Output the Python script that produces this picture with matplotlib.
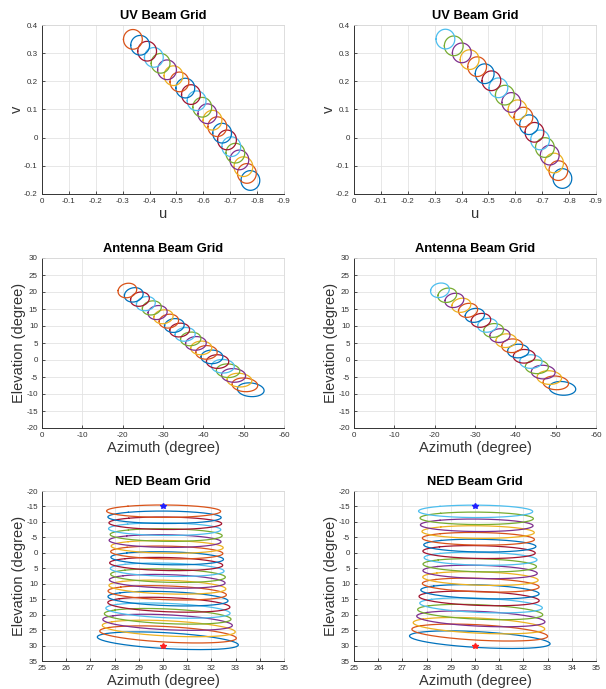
import numpy as np
import matplotlib
matplotlib.use('Agg')
import matplotlib.pyplot as plt

plt.rcParams['font.family'] = ['Liberation Sans', 'DejaVu Sans']
plt.rcParams['axes.unicode_minus'] = False

# MATLAB default colour order
line_colors = ['#0072BD', '#D95319', '#EDB120', '#7E2F8E', '#77AC30', '#4DBEEE', '#A2142F']

# ---- data: beam centres in UV space (first = bottom-right beam, last = top-left beam)
left_u = [-0.775, -0.762, -0.749, -0.734, -0.719, -0.704, -0.688, -0.670, -0.652, -0.634,
          -0.615, -0.596, -0.575, -0.554, -0.533, -0.511, -0.489, -0.465, -0.441, -0.416,
          -0.391, -0.365, -0.338]
left_v = [-0.152, -0.127, -0.103, -0.079, -0.055, -0.032, -0.008, 0.016, 0.039, 0.062,
          0.085, 0.108, 0.131, 0.153, 0.176, 0.198, 0.220, 0.241, 0.264, 0.285,
          0.307, 0.328, 0.349]
right_u = [-0.775, -0.760, -0.744, -0.728, -0.710, -0.692, -0.671, -0.651, -0.630, -0.608,
           -0.585, -0.561, -0.537, -0.511, -0.486, -0.458, -0.430, -0.401, -0.371, -0.340]
right_v = [-0.145, -0.117, -0.090, -0.062, -0.035, -0.008, 0.019, 0.046, 0.073, 0.099,
           0.125, 0.151, 0.177, 0.202, 0.227, 0.252, 0.277, 0.301, 0.326, 0.350]
beam_radius_uv = 0.035

# NED (az, el) of the first and last beam of each grid
left_ned_first = (30.1, 28.4)
left_ned_last = (30.0, -13.5)
right_ned_first = (30.1, 28.0)
right_ned_last = (30.0, -13.4)
# scan limits markers in NED
scan_az = 30
scan_el_start = -15
scan_el_end = 30

uv_xticks = [0, -0.1, -0.2, -0.3, -0.4, -0.5, -0.6, -0.7, -0.8, -0.9]
uv_yticks = [-0.2, -0.1, 0, 0.1, 0.2, 0.3, 0.4]
ant_xticks = [0, -10, -20, -30, -40, -50, -60]
ant_yticks = [-20, -15, -10, -5, 0, 5, 10, 15, 20, 25, 30]
ned_xticks = [25, 26, 27, 28, 29, 30, 31, 32, 33, 34, 35]
ned_yticks = [-20, -15, -10, -5, 0, 5, 10, 15, 20, 25, 30, 35]

LABEL_FONT = ['Liberation Sans Narrow', 'Liberation Sans', 'DejaVu Sans']


def fmt(v):
    return '%g' % v


def uv_to_vec(u, v):
    w = np.sqrt(np.clip(1 - u ** 2 - v ** 2, 0, None))
    return np.stack([w, u, v])


def azel_to_vec(az, el):
    az = np.radians(az); el = np.radians(el)
    return np.array([np.cos(el) * np.cos(az), np.cos(el) * np.sin(az), np.sin(el)])


def fit_rotation(a1, a2, b1, b2):
    a3 = np.cross(a1, a2); a3 /= np.linalg.norm(a3)
    b3 = np.cross(b1, b2); b3 /= np.linalg.norm(b3)
    A = np.stack([a1, a2, a3]); B = np.stack([b1, b2, b3])
    U, S, Vt = np.linalg.svd(A.T @ B)
    R = Vt.T @ U.T
    if np.linalg.det(R) < 0:
        R = Vt.T @ np.diag([1, 1, -1]) @ U.T
    return R


def style_axes(ax, xticks, yticks, xlim, ylim, title, xlabel, ylabel, lsize):
    ax.set_xlim(*xlim); ax.set_ylim(*ylim)
    ax.set_xticks(xticks); ax.set_yticks(yticks)
    ax.set_xticklabels([fmt(t) for t in xticks])
    ax.set_yticklabels([fmt(t) for t in yticks])
    ax.tick_params(direction='in', length=2, width=0.6, labelsize=5.8, colors='#333333', pad=3)
    ax.grid(True, color='#e3e3e3', lw=0.6)
    ax.set_axisbelow(True)
    for s in ['left', 'bottom']:
        ax.spines[s].set_color('#333333'); ax.spines[s].set_linewidth(0.7)
    for s in ['top', 'right']:
        ax.spines[s].set_color('#d8d8d8'); ax.spines[s].set_linewidth(0.6)
    ax.set_title(title, fontsize=9.3, fontweight='bold', pad=4.5)
    ax.set_xlabel(xlabel, fontsize=lsize, color='#333333', labelpad=1.5, family=LABEL_FONT)
    ax.set_ylabel(ylabel, fontsize=lsize, color='#333333', labelpad=0, family=LABEL_FONT)


W, H = 606, 689
fig = plt.figure(figsize=(W / 100, H / 100), dpi=100)
cols = [42 / W, 354 / W]
cw = 242 / W
rows = [(25, 194), (258, 428), (491, 661)]

theta = np.linspace(0, 2 * np.pi, 200)
sets = [(left_u, left_v, left_ned_first, left_ned_last),
        (right_u, right_v, right_ned_first, right_ned_last)]

for c, (us, vs, nfirst, nlast) in enumerate(sets):
    axes = []
    for (t, b) in rows:
        axes.append(fig.add_axes([cols[c], 1 - b / H, cw, (b - t) / H]))
    ax_uv, ax_ant, ax_ned = axes

    us = np.array(us); vs = np.array(vs)
    R = fit_rotation(uv_to_vec(us[0], vs[0]), uv_to_vec(us[-1], vs[-1]),
                     azel_to_vec(*nfirst), azel_to_vec(*nlast))
    for i, (u0, v0) in enumerate(zip(us, vs)):
        col = line_colors[i % 7]
        pu = u0 + beam_radius_uv * np.cos(theta)
        pv = v0 + beam_radius_uv * np.sin(theta)
        ax_uv.plot(pu, pv, color=col, lw=0.9)
        vec = uv_to_vec(pu, pv)
        az = np.degrees(np.arctan2(vec[1], vec[0]))
        el = np.degrees(np.arcsin(vec[2]))
        ax_ant.plot(az, el, color=col, lw=0.9)
        nv = R @ vec
        naz = np.degrees(np.arctan2(nv[1], nv[0]))
        nel = np.degrees(np.arcsin(np.clip(nv[2], -1, 1)))
        ax_ned.plot(naz, nel, color=col, lw=0.9)
    ax_ned.plot([scan_az], [scan_el_start], marker='*', color='#2020ff', ms=4, lw=0)
    ax_ned.plot([scan_az], [scan_el_end], marker='*', color='#ff2020', ms=4, lw=0)

    style_axes(ax_uv, uv_xticks, uv_yticks, (0, -0.9), (-0.2, 0.4), 'UV Beam Grid', 'u', 'v', 10.5)
    style_axes(ax_ant, ant_xticks, ant_yticks, (0, -60), (-20, 30), 'Antenna Beam Grid',
               'Azimuth (degree)', 'Elevation (degree)', 10.5)
    style_axes(ax_ned, ned_xticks, ned_yticks, (25, 35), (35, -20), 'NED Beam Grid',
               'Azimuth (degree)', 'Elevation (degree)', 10.5)

fig.savefig('out.png', dpi=100)
